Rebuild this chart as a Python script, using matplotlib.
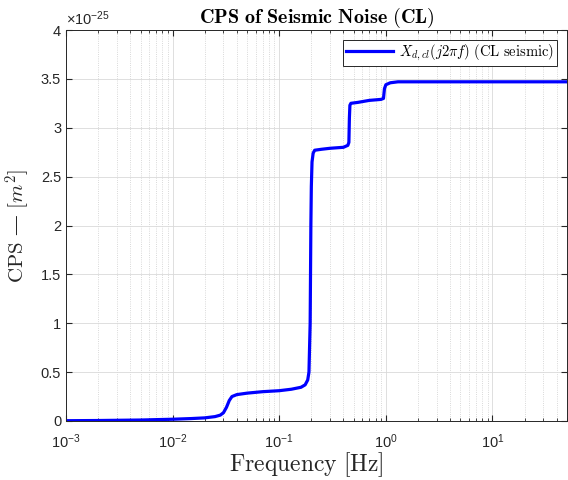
import matplotlib
matplotlib.use('Agg')
import matplotlib.pyplot as plt
import matplotlib.ticker as mticker
import numpy as np

plt.rcParams['font.family'] = ['Liberation Sans', 'DejaVu Sans']
plt.rcParams['mathtext.fontset'] = 'custom'
plt.rcParams['mathtext.rm'] = 'Liberation Sans'
plt.rcParams['mathtext.it'] = 'Liberation Sans:italic'

# values (CPS in units of 1e-25 m^2)
freq = [0.001, 0.002, 0.005, 0.01, 0.015, 0.02, 0.025, 0.028, 0.030, 0.032,
        0.034, 0.036, 0.040, 0.050, 0.07, 0.1, 0.13, 0.16, 0.175, 0.185,
        0.19, 0.195, 0.198, 0.2, 0.203, 0.208, 0.215, 0.25, 0.3, 0.4,
        0.44, 0.45, 0.455, 0.46, 0.47, 0.55, 0.62, 0.7, 0.9, 0.95,
        0.97, 1.0, 1.1, 1.3, 2.0, 5.0, 10.0, 50.0]
cps = [0.003, 0.005, 0.010, 0.018, 0.025, 0.032, 0.045, 0.06, 0.085, 0.14,
       0.21, 0.25, 0.27, 0.285, 0.30, 0.31, 0.325, 0.345, 0.37, 0.42,
       0.50, 1.0, 2.0, 2.4, 2.65, 2.74, 2.77, 2.78, 2.79, 2.80,
       2.82, 2.85, 3.1, 3.23, 3.25, 3.26, 3.27, 3.28, 3.29, 3.30,
       3.40, 3.44, 3.46, 3.47, 3.47, 3.47, 3.47, 3.47]
scale = 1e-25

fig = plt.figure(figsize=(5.68, 4.8), dpi=100)
ax = fig.add_axes([66/568, 59/480, 501/568, 391/480])

ax.semilogx(freq, np.array(cps) * scale, color=(0, 0, 1), lw=2.3,
            label=r'$X_{d,cl}(j2\pi f)$ $\mathrm{(CL\ seismic)}$')

ax.set_xlim(1e-3, 50)
ax.set_ylim(0, 4e-25)
ax.yaxis.set_major_locator(mticker.MultipleLocator(0.5e-25))
ax.yaxis.set_major_formatter(mticker.FuncFormatter(lambda v, _: f'{v/scale:g}'))
ax.text(0.0, 1.006, r'$\times10^{-25}$', transform=ax.transAxes, fontsize=10.5,
        color='0.15', ha='left', va='bottom')

ax.grid(True, which='major', color='0.85', lw=0.6)
ax.grid(True, which='minor', axis='x', color='0.8', lw=0.6, ls=':')
ax.tick_params(which='both', direction='in', top=True, right=True,
               labelsize=10.5, colors='0.15')
ax.tick_params(which='major', length=4)
ax.tick_params(which='minor', length=2.2)
ax.tick_params(axis='x', which='major', pad=8)
for s in ax.spines.values():
    s.set_color('0.15')
    s.set_linewidth(0.7)

t = ax.set_title(r'$\mathbf{CPS\ of\ Seismic\ Noise\ (CL)}$', fontsize=14.5, pad=5)
t.set_math_fontfamily('cm')
xl = ax.set_xlabel(r'$\mathrm{Frequency\ [Hz]}$', fontsize=17, labelpad=0, color='0.15')
xl.set_math_fontfamily('cm')
ax.xaxis.set_label_coords(0.48, -0.075)
yl = ax.set_ylabel(r'$\mathrm{CPS}$ — $[m^2]$', fontsize=15, labelpad=6, color='0.15',
                   family=['DejaVu Serif'])
yl.set_math_fontfamily('cm')

leg = ax.legend(loc='upper right', fontsize=10.5, fancybox=False, framealpha=1,
                edgecolor='0.15', borderaxespad=0.7, handlelength=3.2,
                borderpad=0.2, handletextpad=0.4)
leg.get_frame().set_linewidth(0.7)
for txt in leg.get_texts():
    txt.set_math_fontfamily('cm')

fig.savefig('out.png', dpi=100)
